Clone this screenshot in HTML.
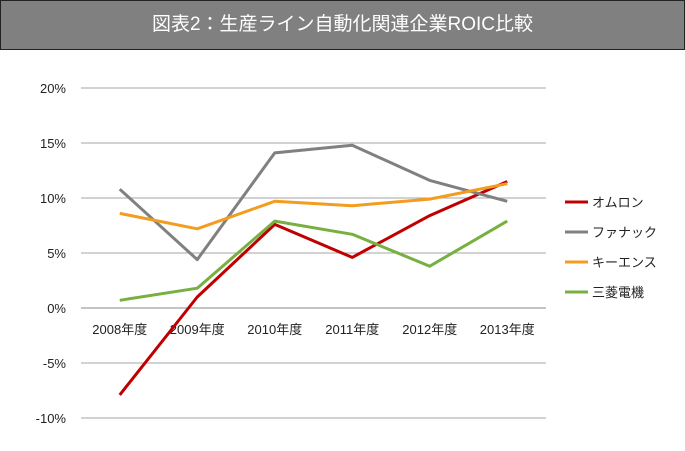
<!DOCTYPE html>
<html><head><meta charset="utf-8"><style>
body{margin:0;background:#fff;font-family:"Liberation Sans","Noto Sans CJK JP",sans-serif}
#wrap{position:relative;width:685px;height:451px;overflow:hidden}
#title{position:absolute;left:0;top:0;width:683px;height:48px;background:#808080;border:1px solid #222;color:#fff;font-size:19px;line-height:48px;text-align:center}
svg text{font-family:"Liberation Sans","Noto Sans CJK JP",sans-serif;font-size:13px;fill:#222}
</style></head><body>
<div id="wrap">
<div id="title">図表2：生産ライン自動化関連企業ROIC比較</div>
<svg id="chart" width="685" height="451" style="position:absolute;left:0;top:0"></svg>
</div>
<script>
const categories=["2008年度","2009年度","2010年度","2011年度","2012年度","2013年度"];
const seriesNames=["オムロン","ファナック","キーエンス","三菱電機"];
const omron=[-7.9,1.0,7.6,4.6,8.4,11.5];
const fanuc=[10.8,4.4,14.1,14.8,11.6,9.7];
const keyence=[8.6,7.2,9.7,9.3,9.9,11.3];
const mitsubishi=[0.7,1.8,7.9,6.7,3.8,7.9];
const yTicks=[20,15,10,5,0,-5,-10];
const colors=["#c00000","#808080","#f39c1f","#77b041"];
const svg=document.getElementById('chart');
const NS='http://www.w3.org/2000/svg';
const x0=81,x1=546,y0=308,pxPer=11;
const y=v=>y0-v*pxPer;
const x=i=>x0+(i+0.5)*(x1-x0)/categories.length;
function mk(t,a){const e=document.createElementNS(NS,t);for(const k in a)e.setAttribute(k,a[k]);svg.appendChild(e);return e;}
yTicks.forEach(t=>{
  const l=mk('line',{x1:x0,x2:x1,y1:y(t),y2:y(t),stroke:t===0?'#888':'#a6a6a6','stroke-width':1});
  
  
  const tx=mk('text',{x:66,y:y(t)+5,'text-anchor':'end'});tx.textContent=t+'%';
  
  
});
categories.forEach((c,i)=>{
  const tx=mk('text',{x:x(i),y:y(0)+26,'text-anchor':'middle'});tx.textContent=c;
  
  
});
[omron,fanuc,keyence,mitsubishi].forEach((s,k)=>{
  const p=mk('polyline',{points:s.map((v,i)=>x(i)+','+y(v)).join(' '),fill:'none',stroke:colors[k],'stroke-width':3,'stroke-linejoin':'round'});
  
  
  const ly=202+k*30;
  const ll=mk('line',{x1:565,x2:588,y1:ly,y2:ly,stroke:colors[k],'stroke-width':3});
  
  
  const lt=mk('text',{x:592,y:ly+5});lt.textContent=seriesNames[k];
  
  
});
</script>
</body></html>
